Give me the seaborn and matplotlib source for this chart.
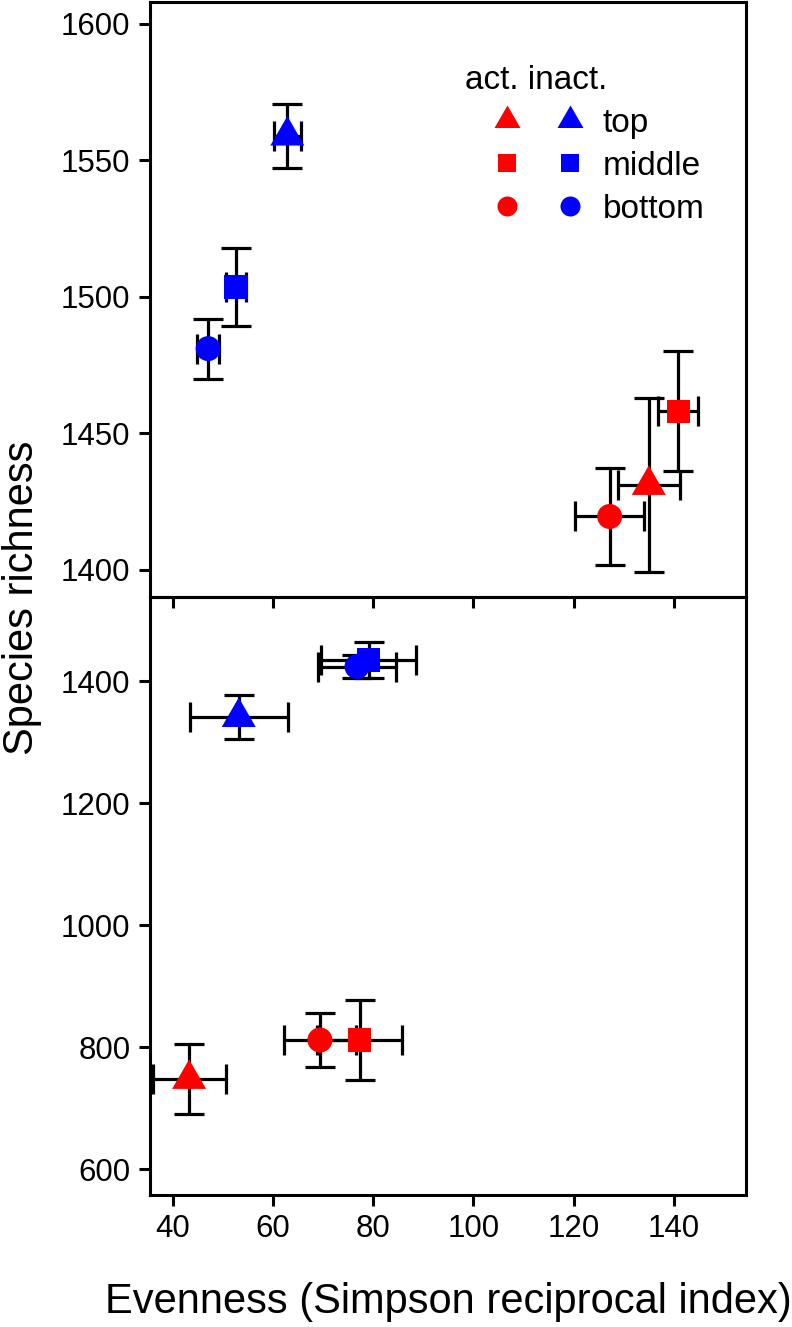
import matplotlib.pyplot as plt
from matplotlib.lines import Line2D
from matplotlib.path import Path
from matplotlib.legend_handler import HandlerTuple
import pandas as pd
import seaborn as sns

sns.set_theme(style="ticks")
plt.rcParams["font.family"] = ["Liberation Sans", "DejaVu Sans"]
plt.rcParams["text.color"] = "black"
plt.rcParams["axes.labelcolor"] = "black"

# data
states = ["act.", "act.", "act.", "inact.", "inact.", "inact."]
layers = ["top", "middle", "bottom", "top", "middle", "bottom"]

# upper panel
up_even = [135.0, 140.9, 127.2, 62.9, 52.7, 47.1]
up_even_err = [6.2, 4.0, 6.9, 2.75, 2.05, 2.2]
up_rich = [1431, 1458, 1419.5, 1559, 1503.5, 1481]
up_rich_err = [31.8, 22, 17.7, 11.7, 14.2, 11]

# lower panel
lo_even = [43.3, 77.3, 69.4, 53.2, 79.1, 76.8]
lo_even_err = [7.3, 8.4, 7.2, 9.8, 9.5, 7.8]
lo_rich = [748, 812, 812, 1341, 1435, 1424]
lo_rich_err = [57, 65, 44, 36, 30, 19]

x_ticks = [40, 60, 80, 100, 120, 140]
up_ticks = [1400, 1450, 1500, 1550, 1600]
lo_ticks = [600, 800, 1000, 1200, 1400]

colors = {"act.": "#FF0000", "inact.": "#0000FF"}
tri = Path([(0, 1), (0.866, -0.5), (-0.866, -0.5), (0, 1)], closed=True)
markers = {"top": tri, "middle": "s", "bottom": "o"}
sizes = {"top": 800, "middle": 289, "bottom": 324}
legend_ms = {"top": 21.6, "middle": 13, "bottom": 14.4}

fig = plt.figure(figsize=(7.92, 13.27), dpi=100)
W, H = 792, 1327
ax_up = fig.add_axes([150 / W, (H - 597) / H, 596 / W, 595 / H])
ax_lo = fig.add_axes([150 / W, (H - 1195) / H, 596 / W, 598 / H])
ax_lo.patch.set_alpha(0)
ax_up.set_zorder(2)
ax_up.patch.set_alpha(0)


def panel(ax, ev, ev_err, ri, ri_err):
    df = pd.DataFrame({"state": states, "layer": layers, "even": ev,
                       "even_err": ev_err, "rich": ri, "rich_err": ri_err})
    ax.errorbar(df["even"], df["rich"], xerr=df["even_err"], yerr=df["rich_err"],
                fmt="none", ecolor="black", elinewidth=2.3, capsize=10.8,
                capthick=2.3, zorder=2)
    sns.scatterplot(data=df, x="even", y="rich", hue="state", style="layer",
                    size="layer", palette=colors, markers=markers, sizes=sizes,
                    style_order=["top", "middle", "bottom"],
                    size_order=["top", "middle", "bottom"],
                    linewidth=0, legend=False, ax=ax, zorder=3)
    ax.set_xlim(35.5, 154.4)
    ax.set_xticks(x_ticks)
    ax.set_xlabel("")
    ax.set_ylabel("")
    for s in ax.spines.values():
        s.set_visible(True)
        s.set_linewidth(2.2)
        s.set_color("black")
    ax.tick_params(direction="out", length=8, width=2.2, color="black",
                   labelsize=22.5, labelcolor="black", pad=6)


panel(ax_up, up_even, up_even_err, up_rich, up_rich_err)
panel(ax_lo, lo_even, lo_even_err, lo_rich, lo_rich_err)

ax_up.set_ylim(1390, 1608)
ax_up.set_yticks(up_ticks)
ax_up.tick_params(labelbottom=False)
ax_lo.set_ylim(558, 1538)
ax_lo.set_yticks(lo_ticks)

fig.text(22 / W, (H - 598) / H, "Species richness", rotation=90,
         ha="center", va="center", fontsize=30, color="black")
fig.text(448 / W, (H - 1313) / H, "Evenness (Simpson reciprocal index)",
         ha="center", va="baseline", fontsize=30, color="black")

# legend: one row per layer, active (red) and inactive (blue) side by side
handles = []
for lay in ["top", "middle", "bottom"]:
    mk = markers[lay]
    pair = tuple(Line2D([], [], marker=mk, color=colors[st], linestyle="none",
                        markersize=legend_ms[lay], markeredgewidth=0)
                 for st in ["act.", "inact."])
    handles.append(pair)

ax_up.legend(handles, ["top", "middle", "bottom"], title="act. inact.",
             handler_map={tuple: HandlerTuple(ndivide=None, pad=-0.63)},
             loc="upper left", bbox_to_anchor=(0.510, 0.9126),
             borderaxespad=0, borderpad=0.33, frameon=False, fontsize=24,
             title_fontsize=24, handlelength=4.41, handletextpad=-0.27,
             labelspacing=0.36, alignment="left")

fig.savefig("out.png", dpi=100)
